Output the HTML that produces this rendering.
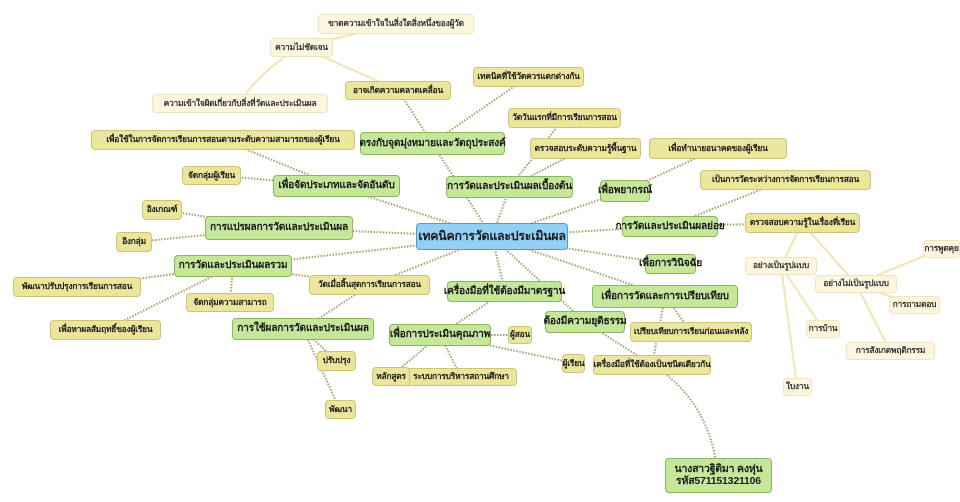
<!DOCTYPE html>
<html><head><meta charset="utf-8"><style>
body{margin:0;width:960px;height:502px;background:#fff;position:relative;overflow:hidden;font-family:"Liberation Sans","Noto Sans CJK SC",sans-serif}
svg{position:absolute;left:0;top:0}
.n{position:absolute;box-sizing:border-box;display:flex;align-items:center;justify-content:center;white-space:nowrap;overflow:visible;font-weight:bold;color:#1b1b1b;border-radius:4px;text-align:center;line-height:1.1;letter-spacing:-0.2px}
.g{background:#c6e69c;border:1.5px solid #86ba5e;font-size:10.2px}
.y{background:#ece59c;border:1.5px solid #cfc476;font-size:8.4px}
.p{background:#fdf6df;border:1.5px solid #f1e4ba;font-size:8.4px;color:#333}
.b{background:#92d0f6;border:1.5px solid #4c9ed6;font-size:12.3px}
</style></head><body>
<svg width="960" height="502">
<g stroke="#a4a066" stroke-width="2" stroke-dasharray="1.5 1.5" fill="none">
<path d="M492 237L432 143M492 237L510 187M492 237L625 191M492 237L670 226M492 237L670 264M492 237L665 296M492 237L585 322M492 237L505 291M492 237L233 266M492 237L279 228M492 237L336 186M492 237L370 285"/>
<path d="M432 143L398 90M432 143L528 77M510 187L585 148M510 187L564 118M625 191L718 148M670 226L785 180M670 226L802 223"/>
<path d="M665 296L691 332M665 296L652 365M585 322L652 365M652 365Q710 400 718 475M505 291L440 335M440 335L520 335M440 335L573 363M440 335L461 377M440 335L391 376"/>
<path d="M303 329L336 361M303 329L340 410M370 285L303 329M233 266L370 285M233 266L77 287M233 266L230 302M233 266L105 330M279 228L162 210M279 228L134 242M336 186L211 175M336 186L223 140"/>
</g>
<g stroke="#f3e4b0" stroke-width="2" fill="none">
<path d="M398 90L301 47M301 47L396 24M301 47Q260 70 240 103M802 223L781 266M802 223L856 284M781 266L823 329M781 266L797 387M856 284L941 249M856 284L914 305M856 284L890 351"/>
</g>
</svg>
<div class="n b" style="left:416px;top:223px;width:152px;height:27px">เทคนิคการวัดและประเมินผล</div>
<div class="n p" style="left:318px;top:14px;width:156px;height:20px">ขาดความเข้าใจในสิ่งใดสิ่งหนึ่งของผู้วัด</div>
<div class="n p" style="left:270px;top:38px;width:63px;height:19px">ความไม่ชัดเจน</div>
<div class="n p" style="left:152px;top:94px;width:176px;height:19px">ความเข้าใจผิดเกี่ยวกับสิ่งที่วัดและประเมินผล</div>
<div class="n y" style="left:345px;top:81px;width:106px;height:19px">อาจเกิดความคลาดเคลื่อน</div>
<div class="n y" style="left:473px;top:67px;width:111px;height:20px">เทคนิคที่ใช้วัดควรแตกต่างกัน</div>
<div class="n y" style="left:508px;top:108px;width:113px;height:20px">วัดวันแรกที่มีการเรียนการสอน</div>
<div class="n y" style="left:530px;top:138px;width:111px;height:21px">ตรวจสอบระดับความรู้พื้นฐาน</div>
<div class="n y" style="left:649px;top:138px;width:138px;height:21px">เพื่อทำนายอนาคตของผู้เรียน</div>
<div class="n y" style="left:700px;top:170px;width:171px;height:20px">เป็นการวัดระหว่างการจัดการเรียนการสอน</div>
<div class="n y" style="left:745px;top:213px;width:115px;height:20px">ตรวจสอบความรู้ในเรื่องที่เรียน</div>
<div class="n p" style="left:745px;top:257px;width:72px;height:18px">อย่างเป็นรูปแบบ</div>
<div class="n p" style="left:923px;top:240px;width:37px;height:18px">การพูดคุย</div>
<div class="n p" style="left:815px;top:275px;width:82px;height:18px">อย่างไม่เป็นรูปแบบ</div>
<div class="n p" style="left:889px;top:296px;width:51px;height:18px">การถามตอบ</div>
<div class="n p" style="left:806px;top:320px;width:34px;height:18px">การบ้าน</div>
<div class="n p" style="left:846px;top:342px;width:89px;height:18px">การสังเกตพฤติกรรม</div>
<div class="n p" style="left:783px;top:378px;width:29px;height:18px">ใบงาน</div>
<div class="n g" style="left:360px;top:132px;width:145px;height:23px">ตรงกับจุดมุ่งหมายและวัตถุประสงค์</div>
<div class="n g" style="left:446px;top:176px;width:127px;height:22px">การวัดและประเมินผลเบื้องต้น</div>
<div class="n g" style="left:600px;top:180px;width:50px;height:22px">เพื่อพยากรณ์</div>
<div class="n g" style="left:622px;top:216px;width:96px;height:21px">การวัดและประเมินผลย่อย</div>
<div class="n g" style="left:645px;top:254px;width:51px;height:20px">เพื่อการวินิจฉัย</div>
<div class="n g" style="left:592px;top:285px;width:146px;height:23px">เพื่อการวัดและการเปรียบเทียบ</div>
<div class="n g" style="left:545px;top:311px;width:80px;height:22px">ต้องมีความยุติธรรม</div>
<div class="n y" style="left:630px;top:322px;width:122px;height:20px">เปรียบเทียบการเรียนก่อนและหลัง</div>
<div class="n y" style="left:593px;top:355px;width:118px;height:20px">เครื่องมือที่ใช้ต้องเป็นชนิดเดียวกัน</div>
<div class="n g" style="left:447px;top:281px;width:115px;height:21px">เครื่องมือที่ใช้ต้องมีมาตรฐาน</div>
<div class="n g" style="left:389px;top:324px;width:102px;height:22px">เพื่อการประเมินคุณภาพ</div>
<div class="n y" style="left:508px;top:326px;width:24px;height:18px">ผู้สอน</div>
<div class="n y" style="left:562px;top:354px;width:23px;height:19px">ผู้เรียน</div>
<div class="n y" style="left:405px;top:368px;width:112px;height:18px">ระบบการบริหารสถานศึกษา</div>
<div class="n y" style="left:372px;top:367px;width:38px;height:19px">หลักสูตร</div>
<div class="n g" style="left:665px;top:458px;width:107px;height:35px;flex-direction:column;font-size:10.5px">นางสาวฐิติมา คงหุ่น<br>รหัส571151321106</div>
<div class="n y" style="left:91px;top:130px;width:264px;height:20px">เพื่อใช้ในการจัดการเรียนการสอนตามระดับความสามารถของผู้เรียน</div>
<div class="n y" style="left:182px;top:166px;width:59px;height:19px">จัดกลุ่มผู้เรียน</div>
<div class="n g" style="left:273px;top:175px;width:127px;height:22px">เพื่อจัดประเภทและจัดอันดับ</div>
<div class="n y" style="left:142px;top:200px;width:40px;height:20px">อิงเกณฑ์</div>
<div class="n y" style="left:116px;top:232px;width:36px;height:20px">อิงกลุ่ม</div>
<div class="n g" style="left:205px;top:216px;width:148px;height:24px">การแปรผลการวัดและประเมินผล</div>
<div class="n g" style="left:174px;top:255px;width:118px;height:22px">การวัดและประเมินผลรวม</div>
<div class="n y" style="left:13px;top:277px;width:128px;height:20px">พัฒนาปรับปรุงการเรียนการสอน</div>
<div class="n y" style="left:186px;top:293px;width:88px;height:19px">จัดกลุ่มความสามารถ</div>
<div class="n y" style="left:309px;top:275px;width:121px;height:20px">วัดเมื่อสิ้นสุดการเรียนการสอน</div>
<div class="n y" style="left:50px;top:320px;width:111px;height:20px">เพื่อหาผลสัมฤทธิ์ของผู้เรียน</div>
<div class="n g" style="left:232px;top:318px;width:142px;height:22px">การใช้ผลการวัดและประเมินผล</div>
<div class="n y" style="left:317px;top:351px;width:39px;height:20px">ปรับปรุง</div>
<div class="n y" style="left:325px;top:400px;width:31px;height:19px">พัฒนา</div>
</body></html>
